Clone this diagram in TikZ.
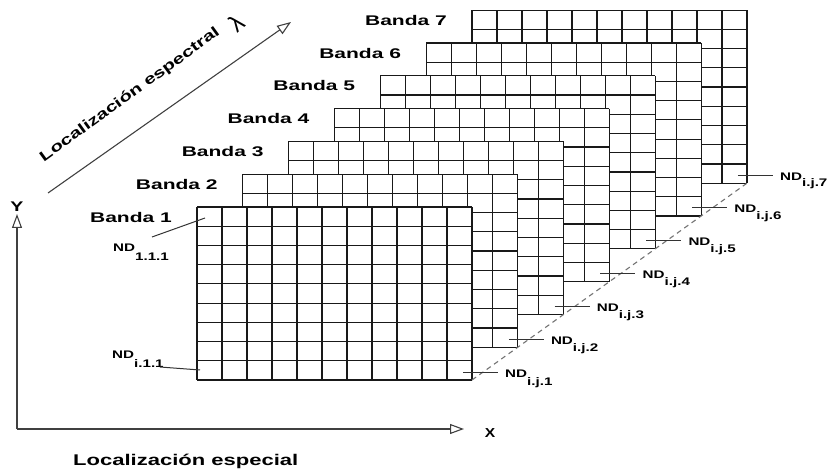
\documentclass[tikz,border=0pt]{standalone}
\usepackage{fontspec}
\setmainfont{Liberation Sans}
\usetikzlibrary{arrows.meta}
\newcommand\hstretch[2][1.45]{\scalebox{#1}[1]{#2}}
\begin{document}
\begin{tikzpicture}[x=1pt,y=-1pt,
  gridline/.style={line width=1.2pt, draw=black!90},
  bandlbl/.style={font=\bfseries\fontsize{14}{14}\selectfont, inner sep=0pt, anchor=east},
  ndlbl/.style={font=\bfseries\fontsize{11}{11}\selectfont, inner sep=0pt, anchor=base west},
  axlbl/.style={font=\bfseries\fontsize{14}{14}\selectfont, inner sep=0pt},
  lead/.style={line width=1pt, draw=black!80},
  axis/.style={line width=1.1pt, draw=black!75, -{Triangle[open, length=14pt, width=10pt, line width=1.1pt]}}]
\useasboundingbox (0,0) rectangle (835,470);

% bands (back to front)
\foreach \k in {7,6,...,1}{
  \pgfmathsetmacro\X{197+45.83*(\k-1)}
  \pgfmathsetmacro\Y{207-32.8*(\k-1)}
  \begin{scope}[shift={(\X,\Y)}]
    \fill[white] (0,0) rectangle (275,173);
    \foreach \i in {0,...,11} \draw[gridline] (\i*25,0) -- (\i*25,173);
    \foreach \j in {0,...,9} \draw[gridline] (0,\j*173/9) -- (275,\j*173/9);
    \coordinate (br\k) at (275,173);
  \end{scope}
  \node[bandlbl] (lb\k) at (\X-25,\Y+10) {\hstretch[1.5]{Banda \k}};
}

% dashed diagonal through bottom-right corners
\draw[dashed, dash pattern=on 5pt off 4pt, line width=1.1pt, draw=black!55] (br1) -- (br7);

% ND labels at right
\foreach \k/\d in {1/8,2/7,3/7,4/7,5/7,6/7,7/6}{
  \pgfmathsetmacro\R{472+45.83*(\k-1)}
  \pgfmathsetmacro\B{380-32.8*(\k-1)}
  \node[ndlbl] (nd\k) at (\R+33,\B-3) {\hstretch[1.38]{ND\raisebox{-\d pt}{i.j.\k}}};
  \draw[lead] ([shift={(-42pt,5pt)}]nd\k.base west) -- ([shift={(-7pt,5pt)}]nd\k.base west);
}

% ND labels at left
\node[ndlbl] (nd111) at (113,252) {\hstretch[1.38]{ND\raisebox{-9pt}{1.1.1}}};
\coordinate (c111) at (205,218);
\draw[lead] ([shift={(39pt,15pt)}]nd111.base west) -- (c111);
\node[ndlbl] (ndi11) at (112,358) {\hstretch[1.38]{ND\raisebox{-9pt}{i.1.1}}};
\coordinate (ci11) at (200,370);
\draw[lead] ([shift={(48pt,-9pt)}]ndi11.base west) -- (ci11);

% axes
\coordinate (O) at (17,429);
\coordinate (ytip) at (17,214);
\coordinate (xtip) at (464,429);
\draw[axis] (O) -- (ytip);
\draw[axis] (O) -- (xtip);
\node[axlbl] (ylab) at (17,207) {\hstretch[1.4]{Y}};
\node[axlbl, font=\bfseries\fontsize{13}{13}\selectfont] (xlab) at (490,433) {\hstretch[1.2]{X}};
\node[font=\bfseries\fontsize{15.5}{15.5}\selectfont, inner sep=0pt, anchor=base west] (esp) at (73,465) {\hstretch[1.42]{Localización especial}};

% spectral axis
\coordinate (ds) at (48,193);
\coordinate (de) at (291,22);
\draw[axis] (ds) -- (de);
\node[font=\bfseries\fontsize{14.5}{14.5}\selectfont, inner sep=0pt, rotate=36] (spec) at (130,95) {\hstretch[1.41]{Localización espectral}};
\node[rotate=40, inner sep=0pt, font=\fontsize{24}{24}\selectfont] (lam) at (237,23) {λ};
\end{tikzpicture}
\end{document}
